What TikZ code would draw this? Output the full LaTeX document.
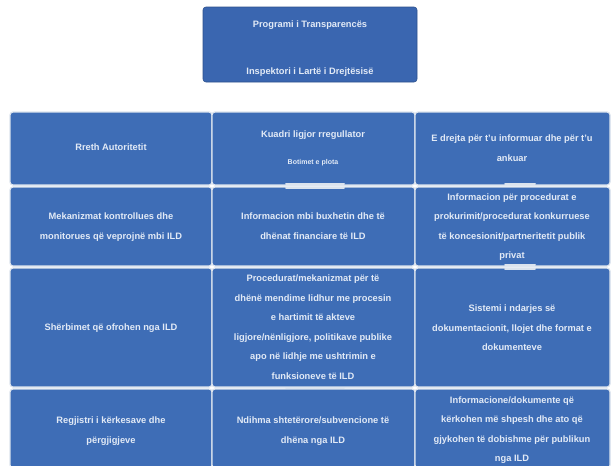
\documentclass[tikz,border=0pt]{standalone}
\usepackage{fontspec}
\setmainfont{Liberation Sans}
\definecolor{cellblue}{HTML}{3E6DB6}
\definecolor{topblue}{HTML}{3A66B0}
\definecolor{celltext}{HTML}{E2EAF6}
\definecolor{cellline}{HTML}{DCE4EE}
\begin{document}
\begin{tikzpicture}[x=1pt,y=-1pt,
  cellbox/.style={fill=cellblue,draw=cellline,line width=1.2pt,rounded corners=3pt},
  celltxt/.style={text=celltext,align=center,font=\fontsize{9.3}{19.5}\selectfont\bfseries,inner sep=0pt},
  smalltxt/.style={text=celltext,align=center,font=\fontsize{7}{8}\selectfont\bfseries,inner sep=0pt},
  tabbar/.style={draw=cellline,line width=2pt,line cap=round}]
\useasboundingbox[fill=white] (0,0) rectangle (611,466);
% title box
\draw[fill=topblue,draw=topblue!80!black,line width=0.6pt,rounded corners=3pt] (203,7) rectangle (417,82);
\node[celltxt] (title) at (310,25) {Programi i Transparencës};
\node[celltxt] (sub) at (310,72) {Inspektori i Lartë i Drejtësisë};
% grid cells
\def\xa{10}\def\xb{212}\def\xc{415}\def\xd{610}
\draw[cellbox] (\xa,112) rectangle (\xb,185);
\draw[cellbox] (\xb,112) rectangle (\xc,185);
\draw[cellbox] (\xc,112) rectangle (\xd,185);
\draw[cellbox] (\xa,187) rectangle (\xb,266);
\draw[cellbox] (\xb,187) rectangle (\xc,266);
\draw[cellbox] (\xc,187) rectangle (\xd,266);
\draw[cellbox] (\xa,268) rectangle (\xb,387);
\draw[cellbox] (\xb,268) rectangle (\xc,387);
\draw[cellbox] (\xc,268) rectangle (\xd,387);
\draw[cellbox] (\xa,389) rectangle (\xb,468);
\draw[cellbox] (\xb,389) rectangle (\xc,468);
\draw[cellbox] (\xc,389) rectangle (\xd,468);
% small light bars between cells
\draw[tabbar] (286,184) -- (344,184);
\draw[tabbar] (286,188) -- (344,188);
\draw[tabbar] (505,184) -- (535,184);
\draw[tabbar] (505,265) -- (535,265);
\draw[tabbar] (505,269) -- (535,269);
\draw[tabbar] (286,388) -- (344,388);
% row 1
\node[celltxt] (r1a) at (111,147) {Rreth Autoritetit};
\node[celltxt] (r1b) at (313,135) {Kuadri ligjor rregullator};
\node[smalltxt] (r1bs) at (313,163) {Botimet e plota};
\node[celltxt] (r1c) at (512,148) {E drejta për t'u informuar dhe për t'u\\ankuar};
% row 2
\node[celltxt] (r2a) at (111,227) {Mekanizmat kontrollues dhe\\monitorues që veprojnë mbi ILD};
\node[celltxt] (r2b) at (313,226) {Informacion mbi buxhetin dhe të\\dhënat financiare të ILD};
\node[celltxt] (r2c) at (512,227) {Informacion për procedurat e\\prokurimit/procedurat konkurruese\\të koncesionit/partneritetit publik\\privat};
% row 3
\node[celltxt] (r3a) at (111,328) {Shërbimet që ofrohen nga ILD};
\node[celltxt] (r3b) at (313,327) {Procedurat/mekanizmat për të\\dhënë mendime lidhur me procesin\\e hartimit të akteve\\ligjore/nënligjore, politikave publike\\apo në lidhje me ushtrimin e\\funksioneve të ILD};
\node[celltxt] (r3c) at (512,328) {Sistemi i ndarjes së\\dokumentacionit, llojet dhe format e\\dokumenteve};
% row 4
\node[celltxt] (r4a) at (111,431) {Regjistri i kërkesave dhe\\përgjigjeve};
\node[celltxt] (r4b) at (313,431) {Ndihma shtetërore/subvencione të\\dhëna nga ILD};
\node[celltxt] (r4c) at (512,430) {Informacione/dokumente që\\kërkohen më shpesh dhe ato që\\gjykohen të dobishme për publikun\\nga ILD};
\end{tikzpicture}
\end{document}
